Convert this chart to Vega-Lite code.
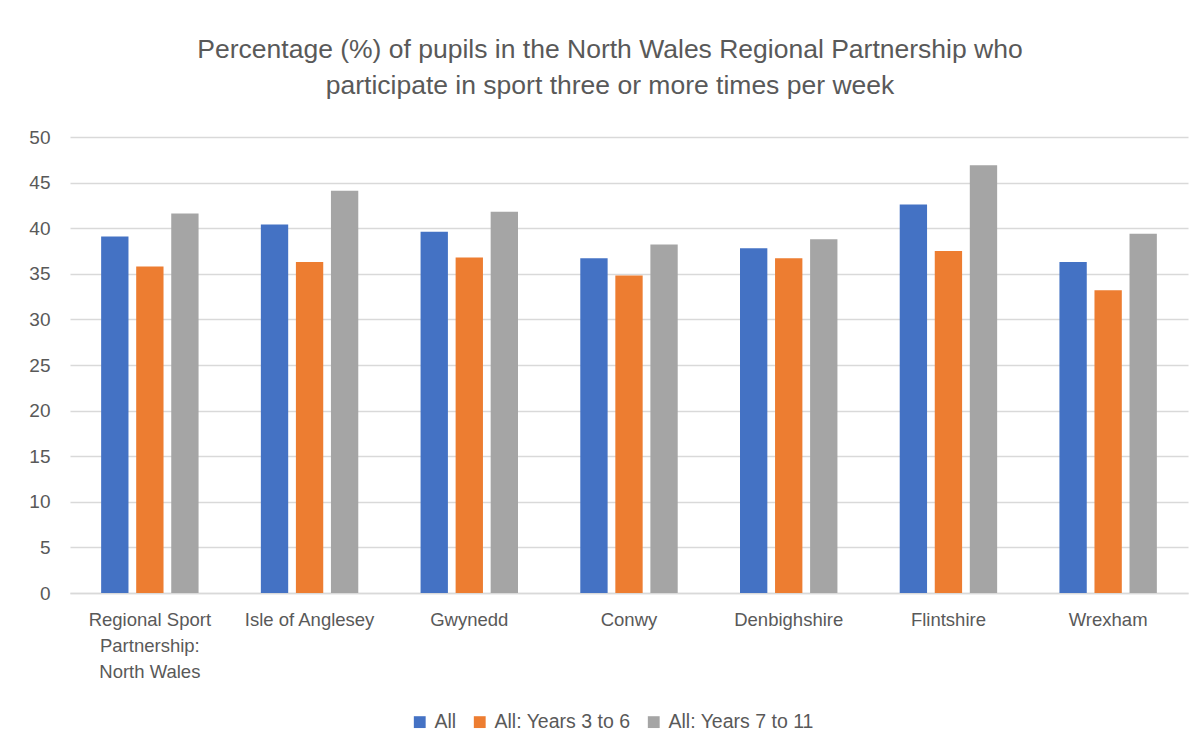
{
  "$schema": "https://vega.github.io/schema/vega-lite/v6.json",
  "width": 1118,
  "height": 456,
  "autosize": {"type": "none"},
  "padding": {"left": 70, "top": 137, "right": 10, "bottom": 159},
  "background": "white",
  "title": {
    "text": ["Percentage (%) of pupils in the North Wales Regional Partnership who", "participate in sport three or more times per week"],
    "anchor": "middle",
    "frame": "group",
    "dx": -19,
    "offset": 29,
    "font": "Liberation Sans",
    "fontSize": 26.5,
    "fontWeight": "normal",
    "color": "#595959",
    "lineHeight": 36
  },
  "data": {
    "values": [
      {"area": "Regional Sport Partnership: North Wales", "series": "All", "value": 39.1},
      {"area": "Regional Sport Partnership: North Wales", "series": "All: Years 3 to 6", "value": 35.8},
      {"area": "Regional Sport Partnership: North Wales", "series": "All: Years 7 to 11", "value": 41.6},
      {"area": "Isle of Anglesey", "series": "All", "value": 40.4},
      {"area": "Isle of Anglesey", "series": "All: Years 3 to 6", "value": 36.3},
      {"area": "Isle of Anglesey", "series": "All: Years 7 to 11", "value": 44.1},
      {"area": "Gwynedd", "series": "All", "value": 39.6},
      {"area": "Gwynedd", "series": "All: Years 3 to 6", "value": 36.8},
      {"area": "Gwynedd", "series": "All: Years 7 to 11", "value": 41.8},
      {"area": "Conwy", "series": "All", "value": 36.7},
      {"area": "Conwy", "series": "All: Years 3 to 6", "value": 34.8},
      {"area": "Conwy", "series": "All: Years 7 to 11", "value": 38.2},
      {"area": "Denbighshire", "series": "All", "value": 37.8},
      {"area": "Denbighshire", "series": "All: Years 3 to 6", "value": 36.7},
      {"area": "Denbighshire", "series": "All: Years 7 to 11", "value": 38.8},
      {"area": "Flintshire", "series": "All", "value": 42.6},
      {"area": "Flintshire", "series": "All: Years 3 to 6", "value": 37.5},
      {"area": "Flintshire", "series": "All: Years 7 to 11", "value": 46.9},
      {"area": "Wrexham", "series": "All", "value": 36.3},
      {"area": "Wrexham", "series": "All: Years 3 to 6", "value": 33.2},
      {"area": "Wrexham", "series": "All: Years 7 to 11", "value": 39.4}
    ]
  },
  "mark": {"type": "bar"},
  "encoding": {
    "x": {
      "field": "area",
      "type": "nominal",
      "sort": null,
      "title": null,
      "scale": {"paddingInner": 0.39, "paddingOuter": 0.195},
      "axis": {
        "labelAngle": 0,
        "labelFont": "Liberation Sans",
        "labelFontSize": 18.5,
        "labelColor": "#595959",
        "labelPadding": 17,
        "labelLineHeight": 26,
        "labelBaseline": "top",
        "ticks": false,
        "domainColor": "#d9d9d9",
        "domainWidth": 1.5,
        "labelExpr": "datum.value == 'Regional Sport Partnership: North Wales' ? ['Regional Sport', 'Partnership:', 'North Wales'] : datum.value"
      }
    },
    "xOffset": {
      "field": "series",
      "type": "nominal",
      "scale": {"paddingInner": 0.22, "paddingOuter": 0}
    },
    "y": {
      "field": "value",
      "type": "quantitative",
      "title": null,
      "scale": {"domain": [0, 50], "nice": false},
      "axis": {
        "values": [0, 5, 10, 15, 20, 25, 30, 35, 40, 45, 50],
        "labelFont": "Liberation Sans",
        "labelFontSize": 19,
        "labelColor": "#595959",
        "labelPadding": 20,
        "ticks": false,
        "domain": false,
        "gridColor": "#d9d9d9",
        "gridWidth": 1.5
      }
    },
    "color": {
      "field": "series",
      "type": "nominal",
      "title": null,
      "scale": {
        "domain": ["All", "All: Years 3 to 6", "All: Years 7 to 11"],
        "range": ["#4472C4", "#ED7D31", "#A5A5A5"]
      },
      "legend": {
        "orient": "none",
        "direction": "horizontal",
        "legendX": 340,
        "legendY": 575,
        "symbolType": "square",
        "symbolSize": 140,
        "symbolStrokeWidth": 0,
        "labelFont": "Liberation Sans",
        "labelFontSize": 19.5,
        "labelColor": "#595959",
        "labelOffset": 5,
        "columnPadding": 13
      }
    }
  },
  "config": {"view": {"stroke": null}}
}
